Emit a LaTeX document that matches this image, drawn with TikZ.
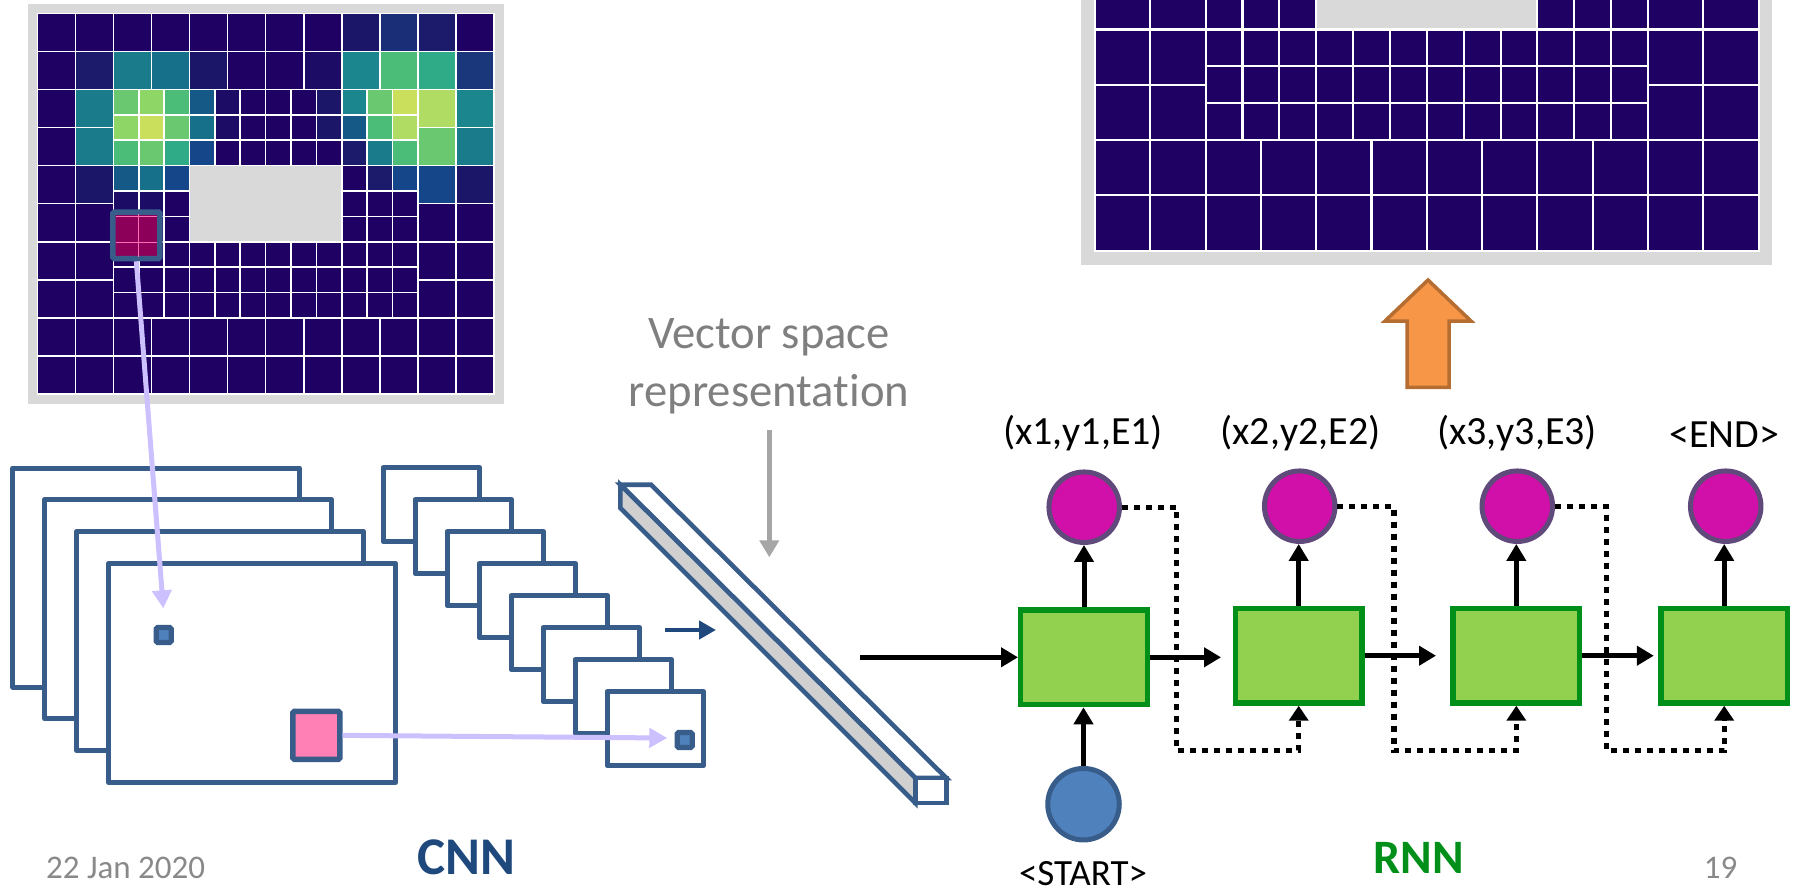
\documentclass[tikz,border=0pt]{standalone}
\usepackage{fontspec}
\setmainfont{Carlito}[Ligatures=NoCommon]
\usetikzlibrary{arrows.meta}

% heat-map palette
\definecolor{B}{HTML}{1F0063}
\definecolor{d1}{HTML}{1D0C66}
\definecolor{d2}{HTML}{1C1668}
\definecolor{d3}{HTML}{1C1A6A}
\definecolor{d4}{HTML}{1A2E78}
\definecolor{d5}{HTML}{1A377C}
\definecolor{d6}{HTML}{16468A}
\definecolor{t1}{HTML}{155A86}
\definecolor{t2}{HTML}{17708A}
\definecolor{t3}{HTML}{1A7B8A}
\definecolor{t4}{HTML}{1B868E}
\definecolor{t5}{HTML}{30AB88}
\definecolor{g1}{HTML}{4CBD78}
\definecolor{g2}{HTML}{6AC870}
\definecolor{g3}{HTML}{8ED665}
\definecolor{y1}{HTML}{B1DC63}
\definecolor{y2}{HTML}{CADF5C}
\definecolor{G}{HTML}{D9D9D9}
% other colours
\definecolor{frameblue}{HTML}{385D8A}
\definecolor{unitblue}{HTML}{4F81BD}
\definecolor{hotfill}{HTML}{8C005A}
\definecolor{hotline}{HTML}{FF6EB4}
\definecolor{patchpink}{HTML}{FF80B5}
\definecolor{lavender}{HTML}{CCC0FF}
\definecolor{navyarrow}{HTML}{1F497D}
\definecolor{bargray}{HTML}{D0D0D0}
\definecolor{pointer}{HTML}{A6A6A6}
\definecolor{labelgray}{HTML}{7F7F7F}
\definecolor{footgray}{HTML}{898989}
\definecolor{cellgreen}{HTML}{92D050}
\definecolor{rnngreen}{HTML}{00901A}
\definecolor{outmag}{HTML}{D10FA9}
\definecolor{outrim}{HTML}{604A7B}
\definecolor{upfill}{HTML}{F79646}
\definecolor{uprim}{HTML}{B66D31}

% one coarse cell / one fine cell (fine block starts at coarse (2,2), 2/3 size)
\newcommand\hcell[3]{\filldraw[cell,fill=#3] (#1,#2) rectangle ++(1,1);}
\newcommand\hfine[3]{\filldraw[cell,fill=#3] ({2+#1*2/3},{2+#2*2/3}) rectangle ++({2/3},{2/3});}
\newcommand\hrow[2]{\foreach \cl [count=\cx from 0] in {#2}{\hcell{\cx}{#1}{\cl}}}
\newcommand\hfrow[2]{\foreach \cl [count=\cx from 0] in {#2}{\hfine{\cx}{#1}{\cl}}}
\newcommand\hsrow[2]{\foreach \cx/\cl in {#2}{\hcell{\cx}{#1}{\cl}}}
\newcommand\hplain{%
  \foreach \rw in {0,1,8,9}{\foreach \cx in {0,...,11}{\hcell{\cx}{\rw}{B}}}%
  \foreach \rw in {2,...,7}{\foreach \cx in {0,1,10,11}{\hcell{\cx}{\rw}{B}}}%
  \foreach \rw in {0,...,8}{\foreach \cx in {0,...,11}{\hfine{\cx}{\rw}{B}}}%
}
\newcommand\hpatch{\filldraw[cell,fill=G] (4,4) rectangle (8,6);}

\begin{document}
\begin{tikzpicture}[x=1pt,y=-1pt,
  cell/.style={draw=white,line width=1.6pt},
  cnnframe/.style={draw=frameblue,line width=5pt,fill=white,line join=round},
  unitsq/.style={rectangle,draw=frameblue,fill=unitblue,line width=5.3pt,minimum size=15pt,inner sep=0pt,rounded corners=1.5pt},
  hotbox/.style={rectangle,draw=frameblue,fill=hotfill,line width=5.5pt,minimum width=47.2pt,minimum height=46.5pt,inner sep=0pt,rounded corners=1.5pt},
  patch/.style={rectangle,draw=frameblue,fill=patchpink,line width=5.5pt,minimum width=47.2pt,minimum height=47.8pt,inner sep=0pt,rounded corners=1.5pt},
  lav/.style={draw=lavender,line width=5pt,-{Triangle[length=18pt,width=19pt]}},
  bar/.style={draw=frameblue,line width=4.6pt},
  rnnbox/.style={rectangle,draw=rnngreen,fill=cellgreen,line width=5.3pt,minimum width=126.7pt,minimum height=94.7pt,inner sep=0pt},
  outnode/.style={circle,draw=outrim,fill=outmag,line width=5pt,minimum size=70.5pt,inner sep=0pt},
  startnode/.style={circle,draw=frameblue,fill=unitblue,line width=5pt,minimum size=71.5pt,inner sep=0pt},
  flow/.style={draw=black,line width=5pt,-{Triangle[length=17pt,width=19pt]}},
  feedback/.style={draw=black,line width=5.2pt,dash pattern=on 6pt off 6pt,-{Triangle[length=15pt,width=19pt]}},
  tag/.style={anchor=base,inner sep=0pt,font=\fontsize{40}{46}\selectfont}
]
\useasboundingbox (0,0) rectangle (1798,894);

% ---------------- input heat map ----------------
\fill[G] (28,4) rectangle (504,404);
\begin{scope}[shift={(37.3,13.3)},x=38.06pt,y=-38.07pt]
  \hplain
  \hrow{0}{B,B,B,B,B,B,B,B,d2,d4,d3,B}
  \hrow{1}{B,d3,t3,t2,d2,B,B,d1,t4,g1,t5,d5}
  \hsrow{2}{1/t3,10/y1,11/t4}
  \hsrow{3}{1/t3,10/g2,11/t3}
  \hsrow{4}{1/d2,10/d6,11/d2}
  \hfrow{0}{g2,g3,g1,t1,d1,B,B,B,d2,t4,g2,y2}
  \hfrow{1}{g3,y2,g2,t2,d1,B,B,B,d2,t1,g1,y1}
  \hfrow{2}{g1,g2,t5,d6,B,B,B,B,B,d3,t3,g1}
  \hfrow{3}{t1,t2,d6,G,G,G,G,G,G,B,d3,d6}
  \hfrow{4}{d1,d1,B,G,G,G,G,G,G,B,B,B}
  \hpatch
\end{scope}
% highlighted receptive field
\node[hotbox] (hot) at (136.35,235.3) {};
\draw[hotline,line width=1.5pt] (115.5,216.7) -- (157.3,216.7)
  (115.5,242.7) -- (157.3,242.7) (138.7,214) -- (138.7,257);

% ---------------- output map (top right) ----------------
\begin{scope}
  \clip (1060,0) rectangle (1798,270);
  \fill[G] (1081,-20) rectangle (1772,265);
  \begin{scope}[shift={(1095,-302.3)},x=55.3pt,y=-55.3pt,cell/.append style={line width=2.1pt}]
    \hplain
    \hpatch
  \end{scope}
\end{scope}

% block arrow up
\filldraw[draw=uprim,fill=upfill,line width=3.5pt,line join=miter]
  (1428,280) -- (1471,321) -- (1449,321) -- (1449,387.4) -- (1407,387.4)
  -- (1407,321) -- (1385,321) -- cycle;

% ---------------- CNN feature maps ----------------
\foreach \k in {0,...,3}
  \draw[cnnframe] ({12.7+32*\k},{468+31.8*\k}) rectangle ++(287,219);
\foreach \k in {0,...,7}
  \draw[cnnframe] ({383+32*\k},{467.7+32*\k}) rectangle ++(96.7,74);

\node[unitsq] (u1) at (163.7,635) {};
\node[patch] (pk) at (316.35,735.35) {};
\node[unitsq] (u2) at (684.7,740) {};

% ---------------- vector representation bar ----------------
\coordinate (vA) at (620.3,484.7);
\coordinate (vB) at (651,484.7);
\coordinate (vC) at (946.3,778);
\coordinate (vD) at (915.3,778);
\coordinate (vE) at (915.3,803);
\coordinate (vF) at (946.3,803);
\coordinate (vG) at (620.3,508);
\filldraw[bar,fill=white] (vA) -- (vB) -- (vC) -- (vD) -- cycle;
\filldraw[bar,fill=bargray] (vA) -- (vD) -- (vE) -- (vG) -- cycle;
\filldraw[bar,fill=white] (vD) -- (vC) -- (vF) -- (vE) -- cycle;

\coordinate (navyfrom) at (665,630);
\coordinate (navyto) at (716,630);
\draw[draw=navyarrow,line width=4.6pt,-{Triangle[length=17pt,width=18pt]}] (navyfrom) -- (navyto);

\node[anchor=base,inner sep=0pt,text=labelgray,font=\fontsize{46.7}{56}\selectfont] (vs1) at (769,348) {Vector space};
\node[anchor=base,inner sep=0pt,text=labelgray,font=\fontsize{46.7}{56}\selectfont] (vs2) at (769,406) {representation};
\coordinate (vsfrom) at (769.3,430);
\coordinate (vsto) at (769.3,557.3);
\draw[draw=pointer,line width=5.5pt,-{Triangle[length=17pt,width=19pt]}] (vsfrom) -- (vsto);

% ---------------- RNN ----------------
\node[rnnbox] (b1) at (1084,657.3) {};
\node[rnnbox] (b2) at (1298.7,655.7) {};
\node[rnnbox] (b3) at (1516.3,655.7) {};
\node[rnnbox] (b4) at (1724.2,655.7) {};
\node[outnode] (c1) at (1084.2,507.2) {};
\node[outnode] (c2) at (1299.7,506.2) {};
\node[outnode] (c3) at (1517.3,506.2) {};
\node[outnode] (c4) at (1725.7,506.2) {};
\node[startnode] (s0) at (1083.5,804.2) {};

\node[tag] (o1) at (1083,444) {(x1,y1,E1)};
\node[tag] (o2) at (1300.5,444) {(x2,y2,E2)};
\node[tag] (o3) at (1517,444) {(x3,y3,E3)};
\node[tag] (o4) at (1724,447) {<END>};
\node[tag,font=\fontsize{37}{44}\selectfont] (st) at (1083,885) {<START>};

\coordinate (vecout) at (860,657.3);
\draw[flow] (vecout) -- (b1.west);
\draw[flow,shorten >=11.7pt] (b1.east) -- (b1.east -| b2.west);
\draw[flow,shorten >=14.3pt] (b2.east) -- (b2.east -| b3.west);
\draw[flow,shorten >=4.4pt] (b3.east) -- (b3.east -| b4.west);
\foreach \i in {1,...,4}
  \draw[flow] (b\i.north) -- (b\i.north |- c\i.south);
\draw[flow] (s0.north) -- (s0.north |- b1.south);

\draw[feedback] (c1.east) -| (1176.7,750.7) -| (b2.south);
\draw[feedback] (c2.east) -| (1394,750.7) -| (b3.south);
\draw[feedback] (c3.east) -| (1606.7,750.7) -| (b4.south);

% ---------------- receptive-field pointers ----------------
\coordinate (lavtip1) at (163.3,608.3);
\coordinate (lavtip2) at (667.3,738);
\draw[lav] (hot.south) -- (lavtip1);
\draw[lav] (pk.east) -- (lavtip2);

% ---------------- captions ----------------
\node[anchor=base,inner sep=0pt,text=navyarrow,font=\fontsize{53}{60}\selectfont\bfseries] (cnn) at (466.5,874) {CNN};
\node[anchor=base,inner sep=0pt,text=rnngreen,font=\fontsize{48}{54}\selectfont\bfseries] (rnn) at (1419,873) {RNN};
\node[anchor=base west,inner sep=0pt,text=footgray,font=\fontsize{33}{40}\selectfont] (date) at (46,878) {22 Jan 2020};
\node[anchor=base,inner sep=0pt,text=footgray,font=\fontsize{33}{40}\selectfont] (page) at (1720.5,878) {19};
\end{tikzpicture}
\end{document}
